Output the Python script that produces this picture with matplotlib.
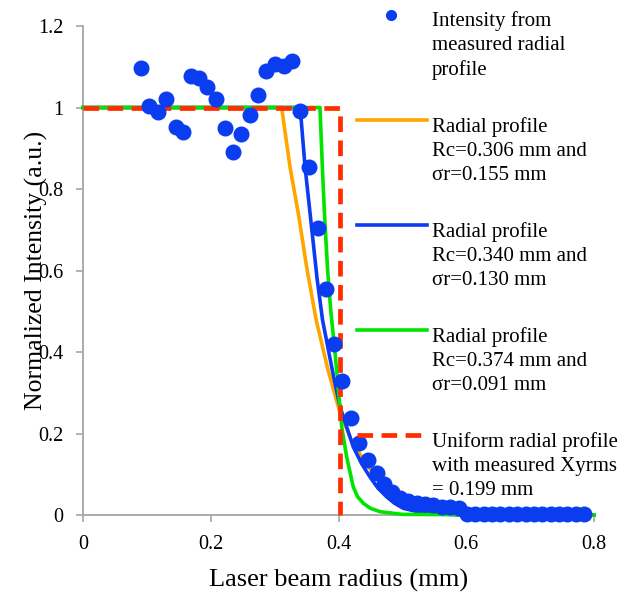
import matplotlib
matplotlib.use("Agg")
import matplotlib.pyplot as plt
from matplotlib.lines import Line2D

plt.rcParams["font.family"] = ["Liberation Serif", "DejaVu Serif"]

# measured radial profile: radius (mm) and normalized intensity
meas_r = [0.0908, 0.1038, 0.1170, 0.1304, 0.1451, 0.1570, 0.1691, 0.1820, 0.1946,
          0.2087, 0.2223, 0.2348, 0.2474, 0.2619, 0.2744, 0.2865, 0.3006, 0.3147,
          0.3277, 0.3400, 0.3538, 0.3679, 0.3800, 0.3930, 0.4060, 0.4196, 0.4326,
          0.4460, 0.4598, 0.4708, 0.4833, 0.4963, 0.5094, 0.5225, 0.5356, 0.5487,
          0.5618, 0.5749, 0.5880, 0.6011, 0.6142, 0.6273, 0.6404, 0.6535, 0.6666,
          0.6797, 0.6928, 0.7059, 0.7190, 0.7321, 0.7452, 0.7583, 0.7714, 0.7845]
meas_i = [1.098, 1.004, 0.988, 1.021, 0.953, 0.939, 1.078, 1.072, 1.050,
          1.021, 0.950, 0.890, 0.935, 0.982, 1.031, 1.090, 1.108, 1.103,
          1.113, 0.992, 0.854, 0.705, 0.555, 0.419, 0.329, 0.239, 0.178,
          0.135, 0.104, 0.077, 0.057, 0.042, 0.035, 0.031, 0.027, 0.024,
          0.021, 0.019, 0.017, 0.004, 0.003, 0.003, 0.003, 0.003, 0.003,
          0.003, 0.003, 0.003, 0.003, 0.003, 0.003, 0.003, 0.003, 0.003]

# radial profile Rc=0.306, sr=0.155
orange_r = [0, 0.311, 0.324, 0.337, 0.350, 0.365, 0.383, 0.4025, 0.420, 0.439,
            0.4545, 0.470, 0.491, 0.510, 0.528, 0.560, 0.600, 0.800]
orange_i = [1, 1, 0.855, 0.741, 0.610, 0.479, 0.360, 0.250, 0.185, 0.135,
            0.103, 0.072, 0.037, 0.022, 0.013, 0.005, 0.0, 0.0]

# radial profile Rc=0.340, sr=0.130
blue_r = [0, 0.340, 0.3476, 0.358, 0.3665, 0.375, 0.3923, 0.4024, 0.423, 0.436,
          0.449, 0.462, 0.4755, 0.488, 0.5014, 0.520, 0.538, 0.600, 0.800]
blue_i = [1, 1, 0.855, 0.704, 0.580, 0.479, 0.340, 0.266, 0.168, 0.127,
          0.0945, 0.066, 0.045, 0.029, 0.017, 0.010, 0.005, 0.0, 0.0]

# radial profile Rc=0.374, sr=0.091
green_r = [0, 0.371, 0.3747, 0.378, 0.383, 0.388, 0.3945, 0.405, 0.4127, 0.423,
           0.430, 0.439, 0.450, 0.465, 0.500, 0.800]
green_i = [1, 1, 0.855, 0.741, 0.600, 0.500, 0.400, 0.217, 0.1436, 0.070,
           0.045, 0.029, 0.017, 0.0086, 0.002, 0.0]

# uniform profile, edge at 2 * Xyrms
uniform_r = [0, 0.403, 0.403]
uniform_i = [1, 1, 0]

x_ticks = [0, 0.2, 0.4, 0.6, 0.8]
x_labels = ["0", "0.2", "0.4", "0.6", "0.8"]
y_ticks = [0, 0.2, 0.4, 0.6, 0.8, 1.0, 1.2]
y_labels = ["0", "0.2", "0.4", "0.6", "0.8", "1", "1.2"]

labels = ["Intensity from\nmeasured radial\nprofile",
          "Radial profile\nRc=0.306 mm and\n\u03c3r=0.155 mm",
          "Radial profile\nRc=0.340 mm and\n\u03c3r=0.130 mm",
          "Radial profile\nRc=0.374 mm and\n\u03c3r=0.091 mm",
          "Uniform radial profile\nwith measured Xyrms\n= 0.199 mm"]

DOT = "#0A3CF0"
ORANGE = "#FFA500"
BLUE = "#0B3BF2"
GREEN = "#00E400"
RED = "#FF2D00"
GRAY = "#A6A6A6"

W, H = 641, 594
fig = plt.figure(figsize=(W / 100, H / 100), dpi=100)
ax = fig.add_axes([83 / W, (H - 515.2) / H, 511 / W, 489.2 / H])

lw = 2.6
dash = (0, (3.3, 1.8))
ax.plot(orange_r, orange_i, color=ORANGE, lw=lw, clip_on=False, zorder=3)
ax.plot(blue_r, blue_i, color=BLUE, lw=lw, clip_on=False, zorder=3)
ax.plot(green_r, green_i, color=GREEN, lw=lw, clip_on=False, zorder=3)
ax.plot(uniform_r, uniform_i, color=RED, lw=3.4, ls=dash,
        dash_capstyle="butt", clip_on=False, zorder=4)
ax.plot(meas_r, meas_i, "o", color=DOT, ms=10.5, mec=DOT, clip_on=False, zorder=5)

ax.set_xlim(0, 0.8)
ax.set_ylim(0, 1.2)
ax.set_xticks(x_ticks, x_labels)
ax.set_yticks(y_ticks, y_labels)
ax.tick_params(direction="out", length=5, width=1.2, color=GRAY,
               labelsize=14.5, pad=9)
for side in ("top", "right"):
    ax.spines[side].set_visible(False)
for side in ("left", "bottom"):
    ax.spines[side].set_color(GRAY)
    ax.spines[side].set_linewidth(1.3)

ax.set_xlabel("Laser beam radius (mm)", fontsize=19, labelpad=11)
ax.set_ylabel("Normalized Intensity (a.u.)", fontsize=18.5, labelpad=-7)

# legend drawn by hand so each handle sits on the first line of its label
handle_y = [15, 120, 225, 330, 435]
line_gap = 25
styles = [dict(marker="o", ls="none", color=DOT, ms=7),
          dict(color=ORANGE, lw=lw),
          dict(color=BLUE, lw=lw),
          dict(color=GREEN, lw=lw),
          dict(color=RED, lw=3.4, ls=dash, dash_capstyle="butt")]
for hy, st, lab in zip(handle_y, styles, labels):
    fy = 1 - hy / H
    if st.get("marker"):
        fig.add_artist(Line2D([391 / W], [fy], **st))
    else:
        fig.add_artist(Line2D([357 / W, 427 / W], [fy, fy], **st))
    # baseline of the last line of the label
    last = hy + 10 + line_gap * lab.count("\n")
    fig.text(432 / W, 1 - last / H, lab, fontsize=15, va="baseline",
             ha="left", linespacing=1.36)

fig.savefig("out.png", dpi=100)
